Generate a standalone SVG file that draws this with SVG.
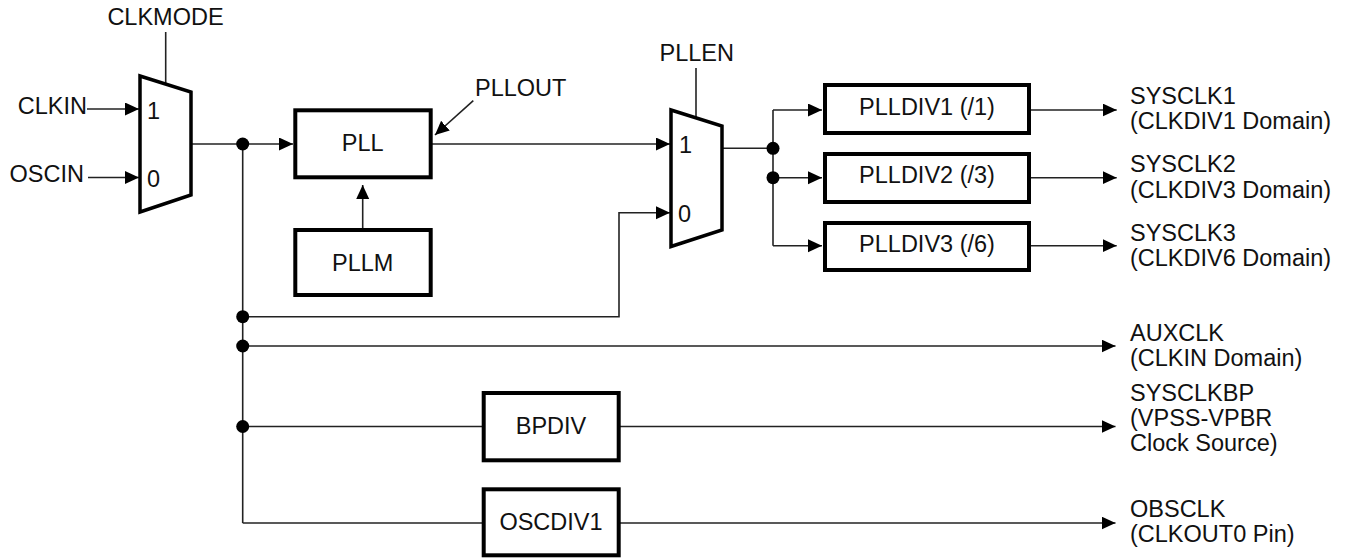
<svg xmlns="http://www.w3.org/2000/svg" width="1346" height="558" viewBox="0 0 1346 558">
<style>
text{font-family:"Liberation Sans",Arial,sans-serif;font-size:23.5px;fill:#111}
.box{fill:#fff;stroke:#000;stroke-width:4}
.mux{fill:#fff;stroke:#000;stroke-width:3.5;stroke-linejoin:miter}
.w{fill:none;stroke:#222;stroke-width:1.6}
.a{fill:none;stroke:#222;stroke-width:1.6;marker-end:url(#ah)}
.c{text-anchor:middle}
.e{text-anchor:end}
</style>
<defs>
<marker id="ah" markerUnits="userSpaceOnUse" markerWidth="15" markerHeight="14" refX="14" refY="6.5" orient="auto"><path d="M0,0 L14,6.5 L0,13 z" fill="#000"/></marker>
</defs>
<rect width="1346" height="558" fill="#fff"/>
<g id="connectors">
<line class="w" x1="165.7" y1="32" x2="165.7" y2="84"/>
<line class="a" x1="87" y1="109" x2="139" y2="109"/>
<line class="a" x1="88" y1="177.5" x2="139" y2="177.5"/>
<line class="a" x1="192" y1="144" x2="293" y2="144"/>
<line class="w" x1="242.7" y1="144" x2="242.7" y2="523"/>
<line class="a" x1="362.7" y1="228" x2="362.7" y2="185"/>
<line class="a" x1="473.3" y1="100.7" x2="435" y2="135"/>
<line class="a" x1="432" y1="144" x2="670" y2="144"/>
<line class="w" x1="696" y1="68" x2="696" y2="117"/>
<polyline class="a" points="242.7,316.7 619,316.7 619,212.7 670,212.7"/>
<line class="w" x1="723" y1="148.3" x2="773" y2="148.3"/>
<line class="w" x1="773" y1="110" x2="773" y2="245.7"/>
<line class="a" x1="773" y1="110" x2="822" y2="110"/>
<line class="a" x1="773" y1="177.7" x2="822" y2="177.7"/>
<line class="a" x1="773" y1="245.7" x2="822" y2="245.7"/>
<line class="a" x1="1031" y1="110" x2="1116.7" y2="110"/>
<line class="a" x1="1031" y1="177.7" x2="1116.7" y2="177.7"/>
<line class="a" x1="1031" y1="245.7" x2="1116.7" y2="245.7"/>
<line class="a" x1="242.7" y1="346" x2="1115.5" y2="346"/>
<line class="w" x1="242.7" y1="426.5" x2="482" y2="426.5"/>
<line class="a" x1="620" y1="426.5" x2="1115.5" y2="426.5"/>
<line class="w" x1="242.7" y1="523" x2="482" y2="523"/>
<line class="a" x1="620" y1="523" x2="1115.5" y2="523"/>
<circle cx="242.7" cy="144" r="6.5" fill="#000"/>
<circle cx="242.7" cy="316.7" r="6.5" fill="#000"/>
<circle cx="242.7" cy="346" r="6.5" fill="#000"/>
<circle cx="242.7" cy="426.5" r="6.5" fill="#000"/>
<circle cx="773" cy="148.3" r="6.5" fill="#000"/>
<circle cx="773" cy="177.7" r="6.5" fill="#000"/>
</g>
<g id="mux1">
<polygon class="mux" points="140,76 191,92 191,195 140,212"/>
<text x="165.5" y="25" class="c">CLKMODE</text>
<text x="87" y="114" class="e">CLKIN</text>
<text x="84" y="182" class="e">OSCIN</text>
<text x="147" y="119">1</text>
<text x="147" y="187">0</text>
</g>
<g id="pll">
<rect class="box" x="295.3" y="110.3" width="135.4" height="67"/>
<text x="362.7" y="150.5" class="c">PLL</text>
<text x="475" y="96">PLLOUT</text>
</g>
<g id="pllm">
<rect class="box" x="295.3" y="230" width="135.4" height="65"/>
<text x="362.7" y="271" class="c">PLLM</text>
</g>
<g id="mux2">
<polygon class="mux" points="671,110 722,126 722,230 671,246.5"/>
<text x="696.7" y="61" class="c">PLLEN</text>
<text x="679" y="153">1</text>
<text x="678" y="222">0</text>
</g>
<g id="plldiv1">
<rect class="box" x="825" y="85" width="204" height="48"/>
<text x="927" y="115" class="c">PLLDIV1 (/1)</text>
</g>
<g id="plldiv2">
<rect class="box" x="825" y="154" width="204" height="48"/>
<text x="927" y="183.3" class="c">PLLDIV2 (/3)</text>
</g>
<g id="plldiv3">
<rect class="box" x="825" y="223" width="204" height="47"/>
<text x="927" y="251.7" class="c">PLLDIV3 (/6)</text>
</g>
<g id="bpdiv">
<rect class="box" x="483.7" y="393" width="135" height="67.3"/>
<text x="551" y="434" class="c">BPDIV</text>
</g>
<g id="oscdiv1">
<rect class="box" x="483.7" y="489.3" width="135" height="66"/>
<text x="551" y="530" class="c">OSCDIV1</text>
</g>
<g id="outputs">
<text x="1130" y="103.5">SYSCLK1</text>
<text x="1130" y="129">(CLKDIV1 Domain)</text>
<text x="1130" y="172">SYSCLK2</text>
<text x="1130" y="197.5">(CLKDIV3 Domain)</text>
<text x="1130" y="240.5">SYSCLK3</text>
<text x="1130" y="266">(CLKDIV6 Domain)</text>
<text x="1130" y="341">AUXCLK</text>
<text x="1130" y="366">(CLKIN Domain)</text>
<text x="1130" y="401">SYSCLKBP</text>
<text x="1130" y="426">(VPSS-VPBR</text>
<text x="1130" y="451">Clock Source)</text>
<text x="1130" y="517">OBSCLK</text>
<text x="1130" y="542">(CLKOUT0 Pin)</text>
</g>
</svg>
